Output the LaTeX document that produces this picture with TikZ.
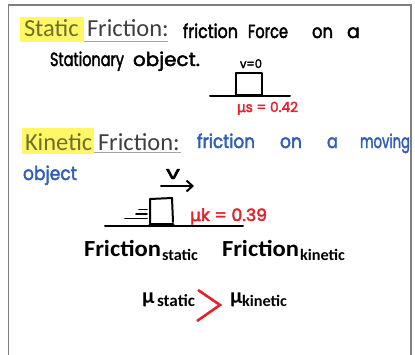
\documentclass[tikz,border=0pt]{standalone}
\usepackage{fontspec}
\usepackage{graphicx}
\setmainfont{Carlito}
\newfontfamily\hand[FakeBold=2.4]{Poppins}
\newfontfamily\handg[FakeBold=2.4]{DejaVu Sans}
\usetikzlibrary{arrows.meta}
\definecolor{frame}{HTML}{7F7F7F}
\definecolor{hili}{HTML}{FFF763}
\definecolor{olivetxt}{HTML}{6E6E2E}
\definecolor{darktxt}{HTML}{3F3F3F}
\definecolor{penblue}{HTML}{2F5DB8}
\definecolor{penred}{HTML}{E8202A}
\newcommand{\fitw}[2]{\resizebox{#1}{\height}{#2}}
\tikzset{
  txt/.style={anchor=base west, inner sep=0pt, outer sep=0pt},
  head/.style={txt, font=\fontsize{24.5}{26}\selectfont, text=darktxt},
  pen/.style={txt, font=\hand\fontsize{19}{20}\selectfont},
  bold/.style={txt, font=\bfseries\fontsize{23}{24}\selectfont, text=black},
  ink/.style={line width=2pt, line cap=round, line join=round},
}
\begin{document}
\begin{tikzpicture}[x=1pt,y=-1pt]
\useasboundingbox (0,0) rectangle (415,354);
% frame
\draw[frame, line width=1.5pt] (8.7,360) -- (8.7,5) -- (411,5) -- (411,360);
% highlights
\fill[hili] (20,17) rectangle (84,42);
\fill[hili] (22,128) rectangle (94,154);
% headings
\node[head, text=olivetxt] (st) at (24,36) {Static};
\node[head] (stf) at (87,36) {Friction:};
\draw[frame!70, line width=0.8pt] (84,41.5) -- (168,41.5);
\node[head, text=olivetxt] (kt) at (25,150) {Kinetic};
\node[head] (ktf) at (98,150) {Friction:};
\draw[frame!70, line width=0.8pt] (94,152.5) -- (181,152.5);
% static handwriting
\node[pen] (w1) at (183,38) {\fitw{55pt}{friction}};
\node[pen] (w2) at (248,38) {\fitw{40pt}{Force}};
\node[pen] (w3) at (312,38) {\fitw{21pt}{on}};
\node[pen] (w4) at (347,38) {\fitw{13pt}{a}};
\node[pen] (w5) at (50,66) {\fitw{74pt}{Stationary}};
\node[pen] (w6) at (133,66) {\fitw{67pt}{object.}};
\node[pen, font=\hand\fontsize{12}{12}\selectfont] (v0) at (240,68) {\fitw{22pt}{v=0}};
% static block
\draw[ink] (236,95) -- (236,73) -- (262,73) -- (262,95);
\draw[ink, line width=3pt] (236,95.5) -- (262,95.5);
\draw[ink] (210,95.5) -- (290,95.5);
\node[pen, text=penred, font=\hand\fontsize{14}{14}\selectfont] (mus) at (237,112) {\fitw{61pt}{{\handg μ}s = 0.42}};
% kinetic handwriting
\node[pen, text=penblue] (b1) at (197,148) {\fitw{58pt}{friction}};
\node[pen, text=penblue] (b2) at (280,148) {\fitw{22pt}{on}};
\node[pen, text=penblue] (b3) at (327,148) {\fitw{11pt}{a}};
\node[pen, text=penblue] (b4) at (360,148) {\fitw{50pt}{moving}};
\node[pen, text=penblue] (b5) at (23,180) {\fitw{54pt}{object}};
% velocity
\node[pen, font=\hand\fontsize{18}{18}\selectfont] (v) at (166,179) {\fitw{14pt}{v}};
\coordinate (a0) at (161,186);
\coordinate (a1) at (194,186);
\draw[ink, -{Straight Barb[length=6pt,width=11pt,line width=2pt]}] (a0) -- (a1);
% kinetic block
\draw[ink] (150,223) -- (150,199) -- (172,198) -- (173,222);
\draw[ink, line width=3pt] (150,224.5) -- (173,224.5);
\draw[ink] (105,225.5) -- (243,225.5);
\draw[ink, line width=1.6pt] (139,209.5) -- (147,209.5);
\draw[ink, line width=1.6pt] (136,214) -- (147,214);
\draw[ink, line width=1.6pt] (125,218.5) -- (147,218.5);
\node[pen, text=penred, font=\hand\fontsize{17}{17}\selectfont] (muk) at (190,221) {\fitw{77pt}{{\handg μ}k = 0.39}};
% bottom comparison
\node[bold] (fs) at (84,256) {\fitw{77pt}{Friction}};
\node[txt, font=\bfseries\fontsize{16}{16}\selectfont] (fss) at (162,260) {\fitw{36pt}{static}};
\node[bold] (fk) at (222,256) {\fitw{77pt}{Friction}};
\node[txt, font=\bfseries\fontsize{16}{16}\selectfont] (fks) at (300,260) {\fitw{45pt}{kinetic}};
\node[bold, font=\bfseries\fontsize{22}{22}\selectfont] (m1) at (142,303) {μ};
\node[txt, font=\bfseries\fontsize{17}{17}\selectfont] (m1s) at (157,306) {\fitw{38pt}{static}};
\draw[penred, line width=2.6pt, line join=miter] (198,290) -- (220,305) -- (197,321);
\node[bold, font=\bfseries\fontsize{22}{22}\selectfont] (m2) at (230,303) {μ};
\node[txt, font=\bfseries\fontsize{16}{16}\selectfont] (m2s) at (242,306) {\fitw{45pt}{kinetic}};
\end{tikzpicture}
\end{document}
